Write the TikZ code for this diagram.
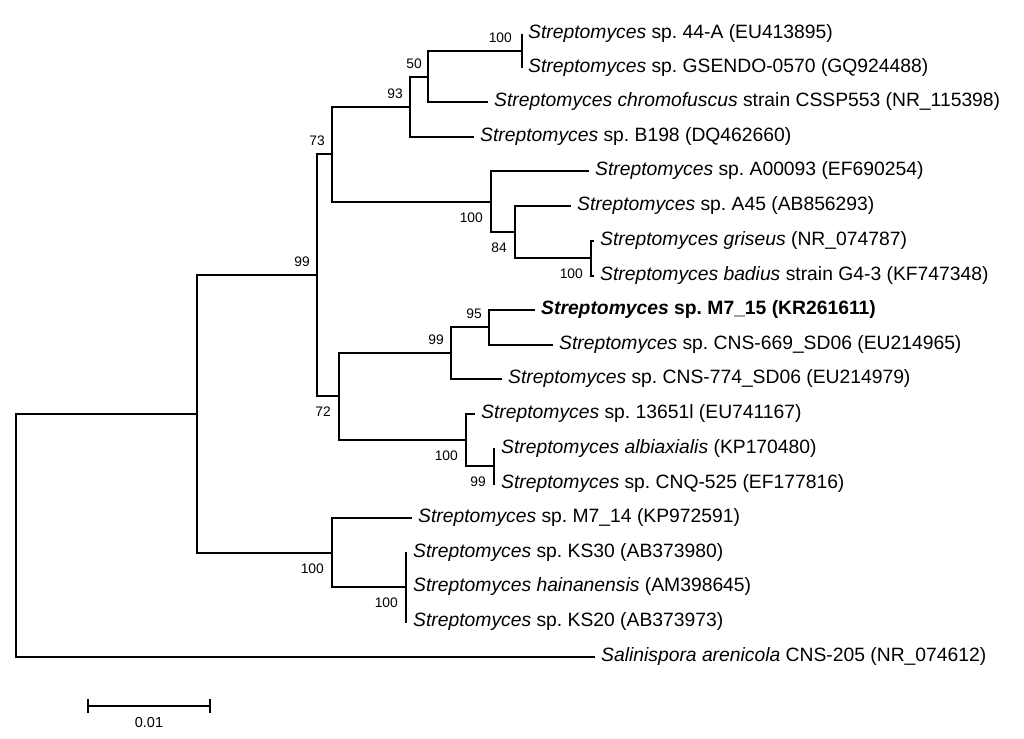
\documentclass[tikz,border=0pt]{standalone}
\usepackage{fontspec}
\setmainfont{Liberation Sans}
\frenchspacing
\begin{document}
\begin{tikzpicture}[x=1pt,y=-1pt,
  br/.style={line width=2pt, line join=miter},
  leaf/.style={anchor=west, inner sep=0pt, xshift=6pt, font=\fontsize{19.3}{21}\selectfont},
  bsa/.style={anchor=east, inner sep=0pt, xshift=-7pt, yshift=13pt, font=\fontsize{13.8}{14}\selectfont},
  bsb/.style={anchor=east, inner sep=0pt, xshift=-8pt, yshift=-15.5pt, font=\fontsize{13.8}{14}\selectfont}]
\fill[white] (0,0) rectangle (1024,738);
\useasboundingbox (0,0) rectangle (1024,738);
% internal nodes
\coordinate (n44) at (522,51);
\coordinate (n50) at (428,77);
\coordinate (n93) at (410,107);
\coordinate (n100b) at (591,258);
\coordinate (n84) at (515,232);
\coordinate (n100a) at (491,202);
\coordinate (n73) at (332,154);
\coordinate (n95) at (489,327);
\coordinate (n99b) at (451,353);
\coordinate (n99c) at (494,466);
\coordinate (n100c) at (466,440);
\coordinate (n72) at (339,396);
\coordinate (n99a) at (317,275);
\coordinate (n100d) at (406,587);
\coordinate (n100e) at (332,553);
\coordinate (nR1) at (197,414);
\coordinate (root) at (16,536);
% tips
\coordinate (t1) at (522,34);
\coordinate (t2) at (522,68);
\coordinate (t3) at (488,102);
\coordinate (t4) at (474,137);
\coordinate (t5) at (589,171);
\coordinate (t6) at (571,206);
\coordinate (t7) at (594,241);
\coordinate (t8) at (594,276);
\coordinate (t9) at (535,310);
\coordinate (t10) at (553,345);
\coordinate (t11) at (502,379);
\coordinate (t12) at (475,414);
\coordinate (t13) at (495,449);
\coordinate (t14) at (495,484);
\coordinate (t15) at (412,518);
\coordinate (t16) at (407,553);
\coordinate (t17) at (407,587);
\coordinate (t18) at (407,622);
\coordinate (t19) at (595,657);
% leaf labels
\node[leaf] (L1) at (t1) {\textit{Streptomyces} sp. 44-A (EU413895)};
\node[leaf] (L2) at (t2) {\textit{Streptomyces} sp. GSENDO-0570 (GQ924488)};
\node[leaf] (L3) at (t3) {\textit{Streptomyces chromofuscus} strain CSSP553 (NR\_115398)};
\node[leaf] (L4) at (t4) {\textit{Streptomyces} sp. B198 (DQ462660)};
\node[leaf] (L5) at (t5) {\textit{Streptomyces} sp. A00093 (EF690254)};
\node[leaf] (L6) at (t6) {\textit{Streptomyces} sp. A45 (AB856293)};
\node[leaf] (L7) at (t7) {\textit{Streptomyces griseus} (NR\_074787)};
\node[leaf] (L8) at (t8) {\textit{Streptomyces badius} strain G4-3 (KF747348)};
\node[leaf] (L9) at (t9) {\textbf{\textit{Streptomyces} sp. M7\_15 (KR261611)}};
\node[leaf] (L10) at (t10) {\textit{Streptomyces} sp. CNS-669\_SD06 (EU214965)};
\node[leaf] (L11) at (t11) {\textit{Streptomyces} sp. CNS-774\_SD06 (EU214979)};
\node[leaf] (L12) at (t12) {\textit{Streptomyces} sp. 13651l (EU741167)};
\node[leaf] (L13) at (t13) {\textit{Streptomyces albiaxialis} (KP170480)};
\node[leaf] (L14) at (t14) {\textit{Streptomyces} sp. CNQ-525 (EF177816)};
\node[leaf] (L15) at (t15) {\textit{Streptomyces} sp. M7\_14 (KP972591)};
\node[leaf] (L16) at (t16) {\textit{Streptomyces} sp. KS30 (AB373980)};
\node[leaf] (L17) at (t17) {\textit{Streptomyces hainanensis} (AM398645)};
\node[leaf] (L18) at (t18) {\textit{Streptomyces} sp. KS20 (AB373973)};
\node[leaf] (L19) at (t19) {\textit{Salinispora arenicola} CNS-205 (NR\_074612)};
% branches
\draw[br] (n44) |- (t1); \draw[br] (n44) |- (t2);
\draw[br] (n50) |- (n44); \draw[br] (n50) |- (t3);
\draw[br] (n93) |- (n50); \draw[br] (n93) |- (t4);
\draw[br] (n100b) |- (t7); \draw[br] (n100b) |- (t8);
\draw[br] (n84) |- (t6); \draw[br] (n84) |- (n100b);
\draw[br] (n100a) |- (t5); \draw[br] (n100a) |- (n84);
\draw[br] (n73) |- (n93); \draw[br] (n73) |- (n100a);
\draw[br] (n95) |- (t9); \draw[br] (n95) |- (t10);
\draw[br] (n99b) |- (n95); \draw[br] (n99b) |- (t11);
\draw[br] (n99c) |- (t13); \draw[br] (n99c) |- (t14);
\draw[br] (n100c) |- (t12); \draw[br] (n100c) |- (n99c);
\draw[br] (n72) |- (n99b); \draw[br] (n72) |- (n100c);
\draw[br] (n99a) |- (n73); \draw[br] (n99a) |- (n72);
\draw[br] (n100d) |- (t16); \draw[br] (n100d) |- (t17); \draw[br] (n100d) |- (t18);
\draw[br] (n100e) |- (t15); \draw[br] (n100e) |- (n100d);
\draw[br] (nR1) |- (n99a); \draw[br] (nR1) |- (n100e);
\draw[br] (root) |- (nR1); \draw[br] (root) |- (t19);
% bootstrap values
\node[bsa, xshift=-3pt] (b44) at (n44) {100};
\node[bsa, xshift=1pt] (b50) at (n50) {50};
\node[bsa] (b93) at (n93) {93};
\node[bsa] (b73) at (n73) {73};
\node[bsa] (b99a) at (n99a) {99};
\node[bsa] (b95) at (n95) {95};
\node[bsa] (b99b) at (n99b) {99};
\node[bsb] (b100a) at (n100a) {100};
\node[bsb] (b84) at (n84) {84};
\node[bsb] (b100b) at (n100b) {100};
\node[bsb] (b72) at (n72) {72};
\node[bsb] (b100c) at (n100c) {100};
\node[bsb] (b99c) at (n99c) {99};
\node[bsb] (b100e) at (n100e) {100};
\node[bsb] (b100d) at (n100d) {100};
% scale bar
\coordinate (sb1) at (88,706);
\coordinate (sb2) at (210,706);
\draw[br] (sb1) -- (sb2);
\draw[br] ([yshift=7pt]sb1) -- ([yshift=-7pt]sb1);
\draw[br] ([yshift=7pt]sb2) -- ([yshift=-7pt]sb2);
\node[font=\fontsize{14.5}{15}\selectfont, inner sep=0pt] (sbl) at (149,722) {0.01};
\end{tikzpicture}
\end{document}
